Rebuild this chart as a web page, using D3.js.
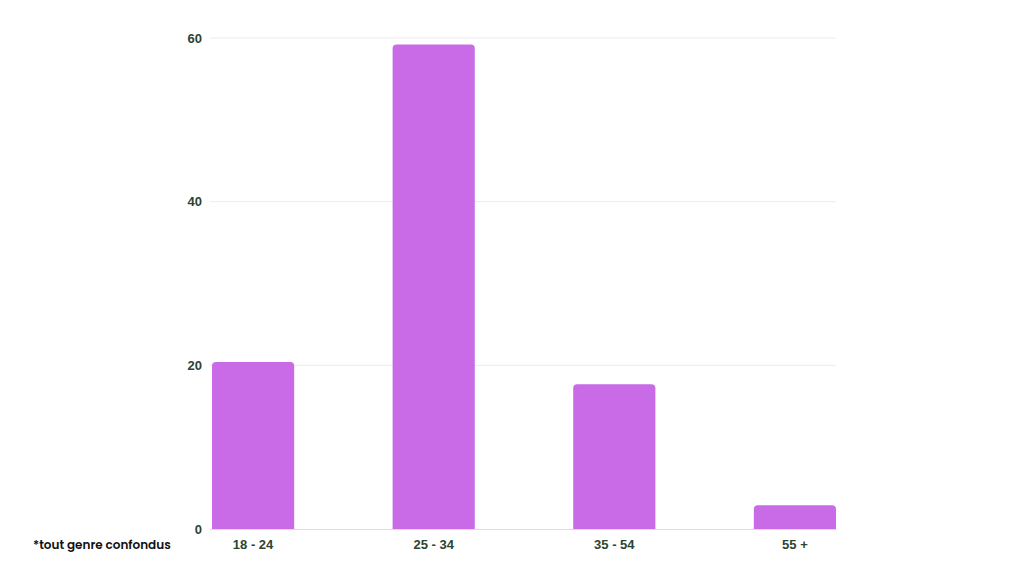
<!DOCTYPE html>
<html>
<head>
<meta charset="utf-8">
<script src="https://cdn.jsdelivr.net/npm/d3@7"></script>
<style>
body { margin: 0; background: #fff; }
svg { display: block; font-family: "Poppins", "Lato", "Open Sans", sans-serif; }
</style>
</head>
<body>
<svg id="chart" width="1024" height="576"></svg>
<script>
var categories = ["18 - 24", "25 - 34", "35 - 54", "55 +"];
var values = [20.4, 59.2, 17.7, 2.9];
var yTicks = [0, 20, 40, 60];
var footnote = "*tout genre confondus";

var svg = d3.select("#chart");

var x = d3.scaleBand()
	.domain(categories)
	.range([212, 836])
	.paddingInner(0.545)
	.paddingOuter(0);

var y = d3.scaleLinear()
	.domain([0, 60])
	.range([529, 38]);

// gridlines
svg.append("g")
	.selectAll("line")
	.data(yTicks.filter(function(d) { return d > 0; }))
	.enter()
	.append("line")
	.attr("x1", 210)
	.attr("x2", 836)
	.attr("y1", function(d) { return y(d); })
	.attr("y2", function(d) { return y(d); })
	.style("stroke", "#ececec")
	.style("stroke-width", 1);

// y tick labels
var yAxis = d3.axisLeft(y).tickValues(yTicks).tickSize(0).tickPadding(0);
var gy = svg.append("g")
	.attr("transform", "translate(202,0)")
	.call(yAxis);
gy.select(".domain").remove();
gy.selectAll("text")
	.style("font-size", "13px")
	.style("font-weight", "600")
	.style("fill", "#2c4430");

// bars, rounded only on top
var r = 4;
svg.append("g")
	.selectAll("path")
	.data(values)
	.enter()
	.append("path")
	.attr("d", function(d, i) {
		var x0 = x(categories[i]), w = x.bandwidth();
		var top = y(d), bot = y(0);
		return "M" + x0 + "," + bot +
			"V" + (top + r) +
			"Q" + x0 + "," + top + " " + (x0 + r) + "," + top +
			"H" + (x0 + w - r) +
			"Q" + (x0 + w) + "," + top + " " + (x0 + w) + "," + (top + r) +
			"V" + bot + "Z";
	})
	.style("fill", "#c96ae7");

// baseline
svg.append("line")
	.attr("x1", 210)
	.attr("x2", 836)
	.attr("y1", y(0) + 0.5)
	.attr("y2", y(0) + 0.5)
	.style("stroke", "#dcdcdc")
	.style("stroke-width", 1);

// x labels
var xAxis = d3.axisBottom(x).tickSize(0).tickPadding(0);
var gx = svg.append("g")
	.attr("transform", "translate(0,549)")
	.call(xAxis);
gx.select(".domain").remove();
gx.selectAll("text")
	.attr("dy", 0)
	.style("font-size", "13px")
	.style("font-weight", "600")
	.style("fill", "#2c4430");

svg.append("text")
	.attr("x", 33)
	.attr("y", 549)
	.text(footnote)
	.style("font-size", "12px")
	.style("font-weight", "600")
	.style("fill", "#111");
</script>
</body>
</html>
